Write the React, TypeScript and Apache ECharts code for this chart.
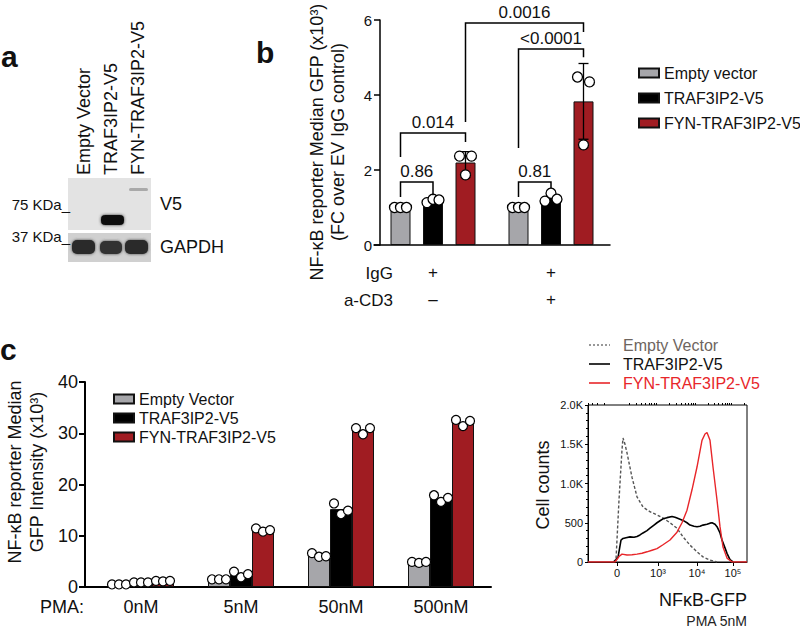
import React, { useEffect, useRef } from "react";
import * as echarts from "echarts";

// ---------------- Panel b data ----------------
const bCategories = ["+\n–", "+\n+"]; // rows: IgG / a-CD3
const bSeriesNames = ["Empty vector", "TRAF3IP2-V5", "FYN-TRAF3IP2-V5"];
const bEmpty = [1.0, 1.0];
const bTraf = [1.18, 1.25];
const bFyn = [2.2, 3.83];
const bFynSd = [0.29, 1.01];
const bEmptyPts = [[1.0, 1.0, 1.0], [1.0, 1.0, 1.0]];
const bTrafPts = [[1.13, 1.22, 1.2], [1.17, 1.38, 1.22]];
const bFynPts = [[2.37, 1.87, 2.37], [4.48, 2.67, 4.35]];
const bBracketLabels = ["0.86", "0.014", "0.81", "0.0016", "<0.0001"];
// [catA, seriesA, catB, seriesB, bracket level, leg A bottom, leg B bottom]
const bBracketSpans = [
  [0, 0, 0, 1, 1.68, 1.28, 1.33],
  [0, 0, 0, 2, 2.99, 2.35, 2.75],
  [1, 0, 1, 1, 1.68, 1.28, 1.52],
  [0, 2, 1, 2, 5.92, 3.28, 5.68],
  [1, 0, 1, 2, 5.23, 2.59, 5.01],
];

// ---------------- Panel c data ----------------
const cCategories = ["0nM", "5nM", "50nM", "500nM"];
const cSeriesNames = ["Empty Vector", "TRAF3IP2-V5", "FYN-TRAF3IP2-V5"];
const cEmpty = [0.5, 1.5, 6.2, 4.8];
const cTraf = [0.9, 2.4, 15.2, 17.3];
const cFyn = [1.0, 11.1, 30.6, 32.1];
const cEmptyPts = [[0.5, 0.5, 0.5], [1.5, 1.5, 1.5], [6.6, 5.9, 6.0], [4.9, 4.7, 4.9]];
const cTrafPts = [[0.9, 0.9, 0.9], [3.0, 1.9, 2.5], [16.3, 14.2, 14.9], [17.9, 16.6, 17.4]];
const cFynPts = [[1.2, 1.1, 1.2], [11.45, 10.8, 11.1], [31.0, 29.8, 31.0], [32.6, 31.4, 32.4]];

// ---------------- Histogram data (display-scale x, cell counts) ----------------
const histNames = ["Empty Vector", "TRAF3IP2-V5", "FYN-TRAF3IP2-V5"];
const histMajorTicks = [0, 41, 80, 116];
const histTickLabels = ["0", "10³", "10⁴", "10⁵"];
const histEmpty = [
  [-4, 0], [-1, 30], [2, 790], [5, 1430], [6, 1580], [8, 1500], [10, 1390], [15, 1080],
  [20, 830], [26, 700], [33, 640], [40, 600], [46, 560], [53, 500], [60, 430], [66, 320],
  [73, 215], [80, 130], [86, 65], [93, 25], [100, 0],
];
const histTraf = [
  [-3, 0], [1, 60], [4, 280], [6, 300], [9, 310], [13, 320], [17, 315], [20, 325], [23, 345],
  [26, 370], [30, 400], [33, 430], [37, 470], [40, 500], [43, 525], [46, 550], [50, 565],
  [55, 580], [58, 570], [60, 560], [63, 545], [66, 530], [70, 500], [73, 470], [77, 455],
  [80, 450], [83, 455], [86, 470], [90, 480], [93, 495], [95, 500], [98, 480], [100, 450],
  [103, 370], [105, 280], [108, 180], [110, 110], [113, 30], [116, 0],
];
const histFyn = [
  [-29, 0], [-2, 0], [2, 70], [5, 100], [10, 90], [15, 92], [20, 100], [25, 112], [30, 130],
  [35, 150], [40, 170], [46, 220], [53, 280], [60, 380], [65, 500], [70, 660], [75, 920],
  [80, 1210], [85, 1550], [88, 1630], [90, 1650], [93, 1550], [96, 1210], [100, 790],
  [103, 450], [106, 190], [110, 50], [115, 0], [130, 0],
];

const FONT = "Liberation Sans, Arial, Helvetica, sans-serif";
const GRAY = "#a6a6aa";
const BLACK = "#000000";
const DARKRED = "#a01c22";
const BRIGHTRED = "#e8262a";
const barColors = [GRAY, BLACK, DARKRED];

const B_BAR_W = 20;
const B_STEP = 32.5;
const C_BAR_W = 22;
const C_STEP = 22;
const JITTER_B = 6;
const JITTER_C = 7;

function minorHistTicks(): number[] {
  const out: number[] = [];
  const decades: [number, number][] = [[0, 41], [41, 80], [80, 116], [116, 152]];
  for (const [a, b] of decades) {
    for (let k = 2; k <= 9; k++) {
      const v = a + (b - a) * Math.log10(k);
      if (v < 130) out.push(+v.toFixed(2));
    }
  }
  for (let k = 2; k <= 9; k++) {
    const v = -41 * Math.log10(k);
    if (v > -29) out.push(+v.toFixed(2));
  }
  return out;
}

function txt(text: string, x: number, y: number, size: number, opts: any = {}) {
  return {
    type: "text",
    x,
    y,
    rotation: opts.rotation || 0,
    silent: true,
    style: {
      text,
      fontSize: size,
      fontFamily: FONT,
      fontWeight: opts.weight || "normal",
      fill: opts.color || "#111",
      textAlign: opts.align || "left",
      align: opts.align || "left",
      textVerticalAlign: opts.valign || "middle",
      verticalAlign: opts.valign || "middle",
      lineHeight: opts.lineHeight,
    },
  };
}

function buildOption() {
  const bVals = [bEmpty, bTraf, bFyn];
  const bPts = [bEmptyPts, bTrafPts, bFynPts];
  const cVals = [cEmpty, cTraf, cFyn];
  const cPts = [cEmptyPts, cTrafPts, cFynPts];

  const series: any[] = [];

  // Panel b bars
  bVals.forEach((vals, s) => {
    series.push({
      type: "bar",
      name: bSeriesNames[s],
      xAxisIndex: 0,
      yAxisIndex: 0,
      data: vals,
      barWidth: B_BAR_W,
      barGap: "62.5%",
      silent: true,
      z: 2,
      itemStyle: { color: barColors[s], borderColor: "#111", borderWidth: 1 },
    });
  });
  // Panel b error bars
  series.push({
    type: "custom",
    xAxisIndex: 0,
    yAxisIndex: 0,
    z: 4,
    clip: false,
    silent: true,
    encode: { x: 0, y: 2 },
    data: bFyn.map((m, c) => [c, 2, m, bFynSd[c]]),
    renderItem: (params: any, api: any) => {
      const c = api.value(0);
      const s = api.value(1);
      const m = api.value(2);
      const sd = api.value(3);
      const top = api.coord([c, m + sd]);
      const bot = api.coord([c, m - sd]);
      const x = top[0] + (s - 1) * B_STEP;
      const st = { stroke: "#000", lineWidth: 1.3 };
      return {
        type: "group",
        children: [
          { type: "line", shape: { x1: x, y1: top[1], x2: x, y2: bot[1] }, style: st },
          { type: "line", shape: { x1: x - 5, y1: top[1], x2: x + 5, y2: top[1] }, style: st },
          { type: "line", shape: { x1: x - 5, y1: bot[1], x2: x + 5, y2: bot[1] }, style: st },
        ],
      };
    },
  });
  // Panel b points
  series.push({
    type: "scatter",
    xAxisIndex: 0,
    yAxisIndex: 0,
    symbolSize: 10,
    z: 5,
    silent: true,
    itemStyle: { color: "#fff", borderColor: "#000", borderWidth: 1.3, opacity: 1 },
    data: bPts.flatMap((groups, s) =>
      groups.flatMap((pts, c) =>
        pts.map((v, j) => ({ value: [c, v], symbolOffset: [(s - 1) * B_STEP + (j - 1) * JITTER_B, 0] }))
      )
    ),
  });
  // Panel b significance brackets
  series.push({
    type: "custom",
    xAxisIndex: 0,
    yAxisIndex: 0,
    z: 6,
    clip: false,
    silent: true,
    encode: { x: 0, y: 4 },
    data: bBracketSpans,
    renderItem: (params: any, api: any) => {
      const ca = api.value(0), sa = api.value(1), cb = api.value(2), sb = api.value(3);
      const lvl = api.value(4), la = api.value(5), lb = api.value(6);
      const xa = api.coord([ca, lvl])[0] + (sa - 1) * B_STEP;
      const xb = api.coord([cb, lvl])[0] + (sb - 1) * B_STEP;
      const yTop = api.coord([ca, lvl])[1];
      const yA = api.coord([ca, la])[1];
      const yB = api.coord([cb, lb])[1];
      return {
        type: "group",
        children: [
          {
            type: "polyline",
            shape: { points: [[xa, yA], [xa, yTop], [xb, yTop], [xb, yB]] },
            style: { stroke: "#000", lineWidth: 1.5, fill: "none" },
          },
          {
            type: "text",
            style: {
              text: bBracketLabels[params.dataIndex],
              x: (xa + xb) / 2,
              y: yTop - 2,
              align: "center",
              verticalAlign: "bottom",
              fontSize: 17,
              fontFamily: FONT,
              fill: "#111",
            },
          },
        ],
      };
    },
  });

  // Panel c bars
  cVals.forEach((vals, s) => {
    series.push({
      type: "bar",
      name: cSeriesNames[s],
      xAxisIndex: 1,
      yAxisIndex: 1,
      data: vals,
      barWidth: C_BAR_W,
      barGap: "0%",
      silent: true,
      z: 2,
      itemStyle: { color: barColors[s], borderColor: "#111", borderWidth: 1 },
    });
  });
  series.push({
    type: "scatter",
    xAxisIndex: 1,
    yAxisIndex: 1,
    symbolSize: 9,
    z: 5,
    silent: true,
    itemStyle: { color: "#fff", borderColor: "#000", borderWidth: 1.2, opacity: 1 },
    data: cPts.flatMap((groups, s) =>
      groups.flatMap((pts, c) =>
        pts.map((v, j) => ({ value: [c, v], symbolOffset: [(s - 1) * C_STEP + (j - 1) * JITTER_C, 0] }))
      )
    ),
  });

  // Histogram
  const histData = [histEmpty, histTraf, histFyn];
  const histStyles = [
    { color: "#555", width: 1.4, type: [3, 2] },
    { color: "#000", width: 1.6, type: "solid" },
    { color: BRIGHTRED, width: 1.4, type: "solid" },
  ];
  histData.forEach((d, i) => {
    series.push({
      type: "line",
      name: "hist-" + histNames[i],
      xAxisIndex: 2,
      yAxisIndex: 2,
      data: d,
      showSymbol: false,
      silent: true,
      z: 3 + i,
      lineStyle: histStyles[i],
    });
  });

  const axisLbl = (size: number, extra: any = {}) => ({
    fontSize: size,
    fontFamily: FONT,
    color: "#111",
    ...extra,
  });

  const graphic: any[] = [
    // panel letters
    txt("a", 1, 56, 30, { weight: "bold" }),
    txt("b", 256, 52, 30, { weight: "bold" }),
    txt("c", 0, 349, 30, { weight: "bold" }),
    // panel a: western blot
    { type: "rect", silent: true, shape: { x: 68, y: 178, width: 83, height: 52 }, style: { fill: "#e3e3e3" } },
    { type: "rect", silent: true, shape: { x: 68, y: 233, width: 83, height: 29 }, style: { fill: "#d0d0d0" } },
    { type: "rect", silent: true, shape: { x: 129, y: 188, width: 19, height: 3, r: 1.5 }, style: { fill: "#a9a9a9" } },
    {
      type: "rect", silent: true, shape: { x: 101, y: 215, width: 23, height: 10, r: 4 },
      style: { fill: "#111", shadowBlur: 3, shadowColor: "#333" },
    },
    { type: "rect", silent: true, shape: { x: 72, y: 240, width: 23, height: 14, r: 5 }, style: { fill: "#2a2a2a", shadowBlur: 3, shadowColor: "#444" } },
    { type: "rect", silent: true, shape: { x: 100, y: 241, width: 22, height: 13, r: 5 }, style: { fill: "#333", shadowBlur: 3, shadowColor: "#444" } },
    { type: "rect", silent: true, shape: { x: 125, y: 240, width: 23, height: 14, r: 5 }, style: { fill: "#2a2a2a", shadowBlur: 3, shadowColor: "#444" } },
    txt("Empty Vector", 84, 175, 18, { rotation: Math.PI / 2 }),
    txt("TRAF3IP2-V5", 111, 175, 18, { rotation: Math.PI / 2 }),
    txt("FYN-TRAF3IP2-V5", 138, 175, 18, { rotation: Math.PI / 2 }),
    txt("75 KDa_", 70, 204, 15, { align: "right" }),
    txt("37 KDa_", 70, 236, 15, { align: "right" }),
    txt("V5", 160, 204, 18),
    txt("GAPDH", 160, 247, 18),
    // panel b texts
    txt("NF-κB reporter Median GFP (x10³)\n(FC over EV IgG control)", 327, 142, 18, {
      rotation: Math.PI / 2, align: "center", lineHeight: 21,
    }),
    txt("IgG", 393, 273, 17, { align: "right" }),
    txt("a-CD3", 393, 300, 17, { align: "right" }),
    // panel c texts
    txt("NF-κB reporter Median\nGFP Intensity (x10³)", 26, 472, 18, {
      rotation: Math.PI / 2, align: "center", lineHeight: 22,
    }),
    txt("PMA:", 84, 607, 18, { align: "right" }),
    // histogram texts
    txt("Cell counts", 543, 485, 18, { rotation: Math.PI / 2, align: "center" }),
    txt("NFκB-GFP", 747, 600, 18, { align: "right" }),
    txt("PMA 5nM", 747, 621, 14, { align: "right", color: "#222" }),
    // histogram legend
    { type: "line", silent: true, shape: { x1: 589, y1: 345, x2: 610, y2: 345 }, style: { stroke: "#777", lineWidth: 1.3, lineDash: [2, 2] } },
    { type: "line", silent: true, shape: { x1: 589, y1: 364, x2: 610, y2: 364 }, style: { stroke: "#000", lineWidth: 1.6 } },
    { type: "line", silent: true, shape: { x1: 589, y1: 383, x2: 610, y2: 383 }, style: { stroke: BRIGHTRED, lineWidth: 1.6 } },
    txt(histNames[0], 623, 345, 16, { color: "#6e655e" }),
    txt(histNames[1], 623, 364, 16, { color: "#111" }),
    txt(histNames[2], 623, 383, 16, { color: BRIGHTRED }),
  ];

  const legendCommon = {
    orient: "vertical",
    icon: "rect",
    itemWidth: 20,
    itemHeight: 9,
    selectedMode: false,
    textStyle: { fontSize: 16, fontFamily: FONT, color: "#111" },
  };

  return {
    animation: false,
    textStyle: { fontFamily: FONT },
    grid: [
      { left: 374, top: 20, width: 236, height: 225 },
      { left: 91, top: 382, width: 400, height: 205 },
      { left: 588, top: 405, width: 159, height: 157, show: true, borderColor: "#000", borderWidth: 1, backgroundColor: "transparent" },
    ],
    legend: [
      { ...legendCommon, left: 633, top: 60, itemGap: 9, data: bSeriesNames },
      { ...legendCommon, left: 108, top: 386, itemGap: 3, data: cSeriesNames },
    ],
    xAxis: [
      {
        gridIndex: 0,
        type: "category",
        data: bCategories,
        axisLine: { lineStyle: { color: "#000", width: 1.5 } },
        axisTick: { alignWithLabel: true, length: 12, lineStyle: { color: "#000", width: 1.5 } },
        axisLabel: axisLbl(17, { lineHeight: 27, margin: 14 }),
        splitLine: { show: false },
      },
      {
        gridIndex: 1,
        type: "category",
        data: cCategories,
        axisLine: {
          lineStyle: { color: "#000", width: 2 },
          symbol: ["rect", "none"],
          symbolSize: [2, 14],
        },
        axisTick: { alignWithLabel: true, length: 6, lineStyle: { color: "#000", width: 2 } },
        axisLabel: axisLbl(18, { margin: 11 }),
        splitLine: { show: false },
      },
      {
        gridIndex: 2,
        type: "value",
        min: -29,
        max: 130,
        axisLine: { show: true, onZero: false, lineStyle: { color: "#000", width: 1 } },
        axisTick: { show: true, customValues: histMajorTicks, length: 4, lineStyle: { color: "#000" } },
        axisLabel: axisLbl(11, {
          customValues: histMajorTicks,
          formatter: (v: number) => histTickLabels[histMajorTicks.indexOf(v)] ?? "",
          margin: 5,
        }),
        splitLine: { show: false },
      },
      {
        gridIndex: 2,
        type: "value",
        min: -29,
        max: 130,
        axisLine: { show: false, onZero: false },
        axisTick: { show: true, customValues: minorHistTicks(), length: 2, lineStyle: { color: "#000" } },
        axisLabel: { show: false },
        splitLine: { show: false },
      },
    ],
    yAxis: [
      {
        gridIndex: 0,
        type: "value",
        min: 0,
        max: 6,
        interval: 2,
        offset: -6,
        axisLine: { show: true, lineStyle: { color: "#000", width: 1.5 } },
        axisTick: { show: true, length: 6, lineStyle: { color: "#000", width: 1.5 } },
        axisLabel: axisLbl(15, { margin: 8 }),
        splitLine: { show: false },
      },
      {
        gridIndex: 1,
        type: "value",
        min: 0,
        max: 40,
        interval: 10,
        offset: 6,
        axisLine: { show: true, lineStyle: { color: "#000", width: 2 } },
        axisTick: { show: true, length: 6, lineStyle: { color: "#000", width: 2 } },
        axisLabel: axisLbl(18, { margin: 7 }),
        splitLine: { show: false },
      },
      {
        gridIndex: 2,
        type: "value",
        min: 0,
        max: 2000,
        interval: 500,
        axisLine: { show: true, onZero: false, lineStyle: { color: "#000", width: 1 } },
        axisTick: { show: true, length: 3, lineStyle: { color: "#000" } },
        minorTick: { show: true, splitNumber: 5, length: 2, lineStyle: { color: "#000" } },
        axisLabel: axisLbl(11, {
          margin: 5,
          formatter: (v: number) => (v < 1000 ? String(v) : (v / 1000).toFixed(1) + "K"),
        }),
        splitLine: { show: false },
      },
    ],
    series,
    graphic,
  };
}

export default function App() {
  const ref = useRef<HTMLDivElement>(null);
  useEffect(() => {
    if (!ref.current) return;
    const chart = echarts.init(ref.current, null, { renderer: "svg" });
    chart.setOption(buildOption() as any);
    return () => chart.dispose();
  }, []);
  return (
    <div
      ref={ref}
      style={{ position: "fixed", left: 0, top: 0, width: 800, height: 628, background: "#fff" }}
    />
  );
}
